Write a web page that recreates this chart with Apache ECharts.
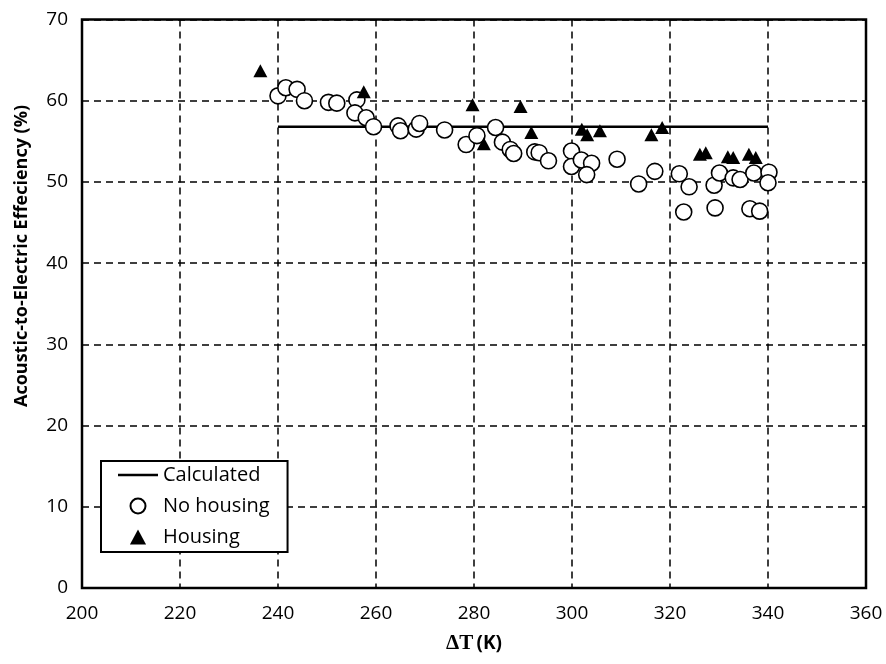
<!DOCTYPE html>
<html><head><meta charset="utf-8">
<script src="https://cdn.jsdelivr.net/npm/echarts@6/dist/echarts.min.js"></script>
<style>html,body{margin:0;padding:0;background:#fff}#c{width:886px;height:664px}</style>
</head><body><div id="c"></div>
<script>
// ---- data ----
const calcX = [240, 340];
const calcY = [56.8, 56.8];

const noHousingX = [240.0, 241.6, 243.9, 245.4, 250.3, 252.0, 256.1, 255.7, 258.0, 259.5,
  264.5, 265.0, 268.2, 268.9, 274.0, 278.4, 280.6, 284.4, 285.8, 287.4,
  288.1, 292.4, 293.3, 295.2, 299.9, 299.9, 301.9, 304.0, 303.0, 309.2,
  313.6, 316.9, 321.9, 323.9, 322.8, 329.0, 330.1, 329.2, 332.9, 334.3,
  337.1, 340.2, 340.0, 336.3, 338.3];
const noHousingY = [60.6, 61.6, 61.4, 60.0, 59.8, 59.7, 60.1, 58.5, 57.9, 56.8,
  56.9, 56.3, 56.5, 57.2, 56.4, 54.6, 55.7, 56.7, 54.9, 54.0,
  53.5, 53.7, 53.6, 52.6, 53.8, 51.9, 52.7, 52.3, 50.9, 52.8,
  49.75, 51.3, 51.0, 49.4, 46.3, 49.6, 51.1, 46.8, 50.5, 50.3,
  51.1, 51.2, 49.9, 46.7, 46.4];

const housingX = [236.4, 257.5, 279.7, 282.0, 289.5, 291.7, 302.0, 303.1, 305.7,
  316.2, 318.4, 326.1, 327.3, 331.8, 332.9, 336.1, 337.5];
const housingY = [63.7, 61.1, 59.5, 54.7, 59.3, 56.1, 56.5, 55.8, 56.3,
  55.8, 56.7, 53.4, 53.6, 53.1, 53.0, 53.4, 53.0];

const xMin = 200, xMax = 360, xStep = 20;
const yMin = 0, yMax = 70, yStep = 10;

const seriesNames = ['Calculated', 'No housing', 'Housing'];
const yTitle = 'Acoustic-to-Electric Effeciency (%)';

// ---- chart ----
const FONT = "'Open Sans', 'Noto Sans', sans-serif";
const zip = (a, b) => a.map((v, i) => [v, b[i]]);
const chart = echarts.init(document.getElementById('c'), null, {renderer: 'canvas'});
const grid = {color: '#000', type: [7, 5], width: 1.5};

chart.setOption({
  animation: false,
  backgroundColor: '#fff',
  grid: {left: 82, right: 20, top: 19.5, bottom: 76, show: true, borderColor: '#000', borderWidth: 2.5, backgroundColor: 'transparent'},
  xAxis: {
    type: 'value', min: xMin, max: xMax, interval: xStep,
    axisLine: {show: false}, axisTick: {show: false},
    splitLine: {show: true, lineStyle: grid},
    axisLabel: {color: '#000', fontFamily: FONT, fontSize: 19, margin: 16},
    name: '{a|ΔT} {b|(K)}', nameLocation: 'middle', nameGap: 45,
    nameTextStyle: {rich: {
      a: {fontFamily: "'Liberation Serif', serif", fontWeight: 'bold', fontSize: 21, color: '#000'},
      b: {fontFamily: FONT, fontWeight: 'bold', fontSize: 19, color: '#000'}
    }}
  },
  yAxis: {
    type: 'value', min: yMin, max: yMax, interval: yStep,
    axisLine: {show: false}, axisTick: {show: false},
    splitLine: {show: true, lineStyle: grid},
    axisLabel: {color: '#000', fontFamily: FONT, fontSize: 19, margin: 14}
  },
  graphic: [{
    type: 'text', x: 22, y: 256, rotation: Math.PI / 2,
    style: {text: yTitle, fontFamily: FONT, fontWeight: 'bold', fontSize: 18, fill: '#000', align: 'center', verticalAlign: 'middle'}
  }],
  legend: {
    orient: 'vertical', left: 101, top: 461,
    backgroundColor: '#fff', borderColor: '#000', borderWidth: 2,
    padding: [4, 18, 5, 17], itemWidth: 40, itemHeight: 15, itemGap: 11,
    symbolKeepAspect: true,
    textStyle: {color: '#000', fontFamily: FONT, fontSize: 20, lineHeight: 20},
    data: [
      {name: seriesNames[0], icon: 'path://M0,0 L40,0 L40,2.5 L0,2.5 Z', itemStyle: {color: '#000', borderWidth: 0}},
      {name: seriesNames[1], icon: 'circle'},
      {name: seriesNames[2], icon: 'path://M7,0 L14,13 L0,13 Z'}
    ]
  },
  series: [
    {name: seriesNames[0], type: 'line', data: zip(calcX, calcY), symbol: 'none', showSymbol: false,
      lineStyle: {color: '#000', width: 2.5}, itemStyle: {color: '#000'}, z: 2},
    {name: seriesNames[1], type: 'scatter', data: zip(noHousingX, noHousingY), symbol: 'circle', symbolSize: 16,
      itemStyle: {color: '#fff', borderColor: '#000', borderWidth: 1.6, opacity: 1}, z: 3},
    {name: seriesNames[2], type: 'scatter', data: zip(housingX, housingY), symbol: 'triangle', symbolSize: [14, 13],
      itemStyle: {color: '#000', opacity: 1}, z: 4}
  ]
});
</script>
</body></html>
